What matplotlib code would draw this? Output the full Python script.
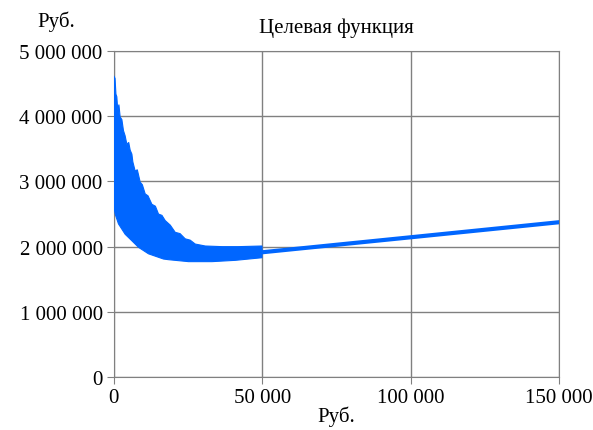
import matplotlib.pyplot as plt
from matplotlib.ticker import FuncFormatter

plt.rcParams['font.family'] = ['Liberation Serif', 'DejaVu Serif']

# upper and lower edges of the noisy band (x in rub, y in rub)
band_x_up = [0, 400, 700, 1000, 1300, 1700, 2120, 2700, 3240, 3800, 4380, 5000, 5500,
             6070, 6400, 7180, 7900, 8870, 9600, 10550, 11500, 12810, 14000, 15040,
             16200, 17300, 19000, 20670, 22300, 24040, 25700, 27410, 30790, 36520,
             41910, 49900]
band_up = [4620000, 4580000, 4340000, 4300000, 4100000, 4180000, 3990000, 3950000,
           3780000, 3700000, 3570000, 3600000, 3480000, 3420000, 3300000, 3160000,
           3180000, 2990000, 2950000, 2810000, 2780000, 2650000, 2620000, 2500000,
           2480000, 2400000, 2330000, 2220000, 2200000, 2120000, 2100000, 2040000,
           2010000, 2000000, 2000000, 2010000]
band_x_low = [0, 440, 1550, 3810, 6070, 8300, 11670, 16730, 18410, 25160, 33050,
              40900, 48760, 49900]
band_low = [2620000, 2500000, 2350000, 2190000, 2090000, 1990000, 1890000, 1810000,
            1800000, 1770000, 1770000, 1790000, 1825000, 1830000]

# straight part after 50 000
line_x = [50000, 100000, 150000]
line_y = [1914000, 2144000, 2375000]

blue = '#0066FF'
grey = '#808080'

fig = plt.figure(figsize=(5.93, 4.31), dpi=100)
ax = fig.add_axes([0.192, 0.123, 0.751, 0.756])

# band outline: along the upper edge, back along the lower edge
poly_x = band_x_up + band_x_low[::-1]
poly_y = band_up + band_low[::-1]
ax.fill(poly_x, poly_y, color=blue, lw=0.8, zorder=3)
ax.plot(line_x, line_y, color=blue, lw=3, zorder=3)

ax.set_xlim(0, 150000)
ax.set_ylim(0, 5000000)
ax.set_xticks([0, 50000, 100000, 150000])
ax.set_yticks(range(0, 5000001, 1000000))

fmt = FuncFormatter(lambda v, p: f'{int(v):,}'.replace(',', ' '))
ax.xaxis.set_major_formatter(fmt)
ax.yaxis.set_major_formatter(fmt)

ax.grid(True, color=grey, lw=1)
ax.set_axisbelow(True)
for s in ax.spines.values():
    s.set_color(grey)
ax.tick_params(direction='out', length=5, color=grey, labelsize=15, pad=3)

ax.set_title('Целевая функция', fontsize=15, pad=14)
ax.set_xlabel('Руб.', fontsize=15, labelpad=-1)
fig.text(0.126, 0.937, 'Руб.', fontsize=15, ha='right')

fig.savefig('out.png', dpi=100)
